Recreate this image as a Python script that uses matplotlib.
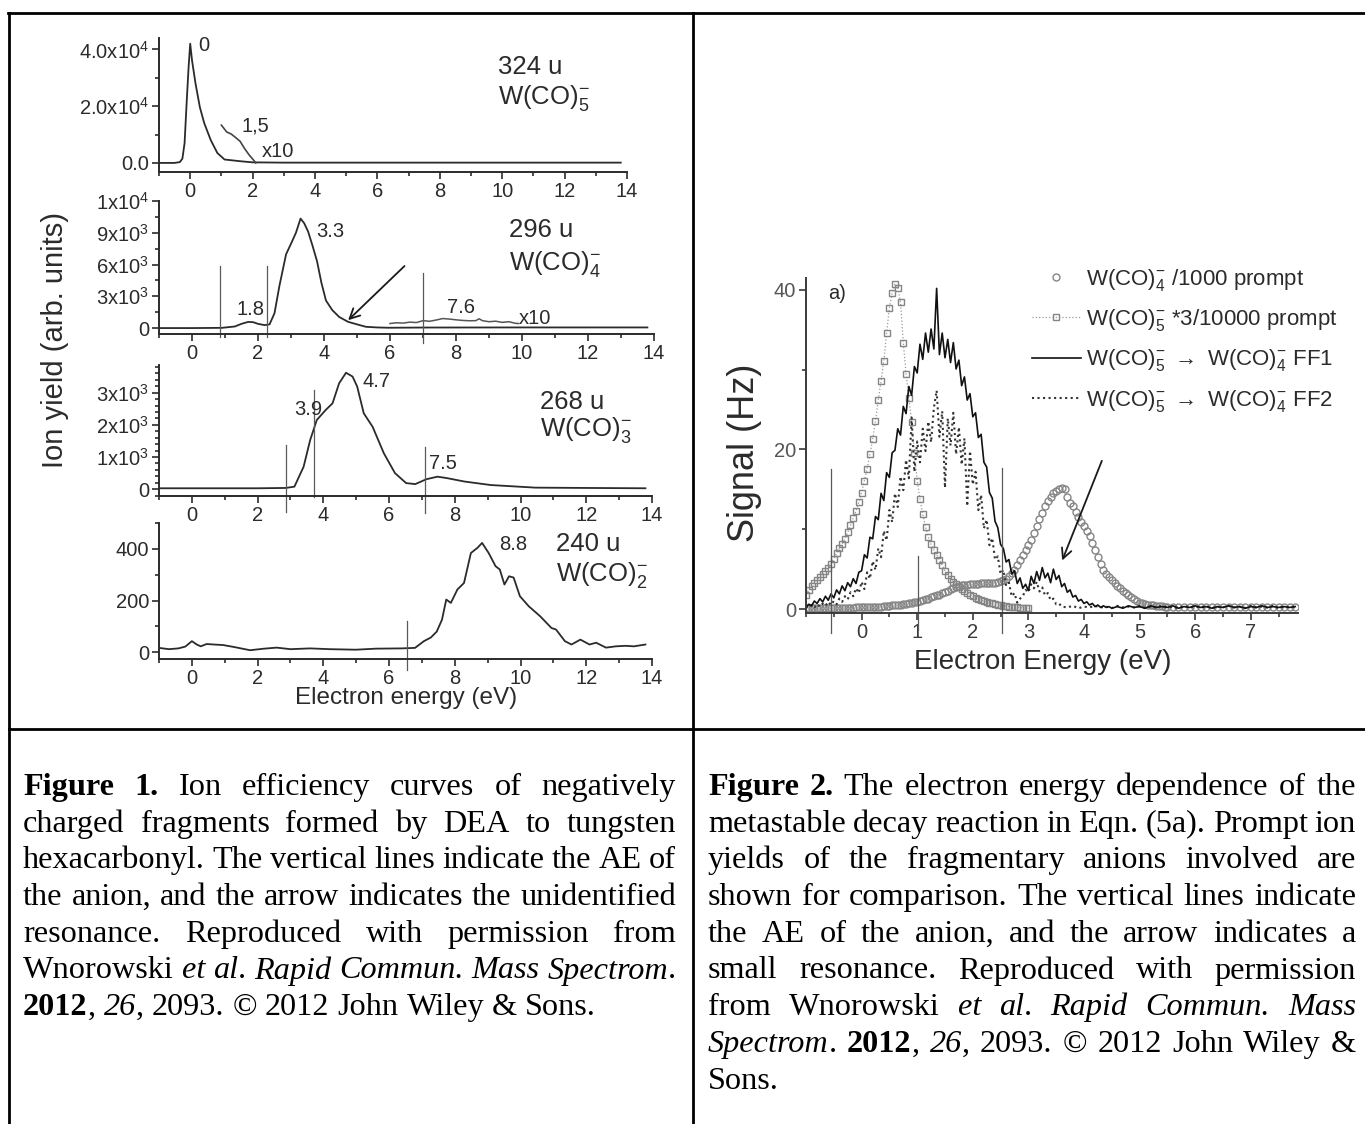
import numpy as np
import matplotlib
matplotlib.use('Agg')
import matplotlib.pyplot as plt
from matplotlib.lines import Line2D
from matplotlib.ticker import MultipleLocator, FixedLocator

plt.rcParams['font.family'] = ['Liberation Sans', 'DejaVu Sans']
plt.rcParams['mathtext.fontset'] = 'custom'
plt.rcParams['mathtext.rm'] = 'Liberation Sans'
plt.rcParams['mathtext.it'] = 'Liberation Sans:italic'
plt.rcParams['mathtext.bf'] = 'Liberation Sans:bold'

# ---------------- Figure 1 data (ion yield vs electron energy) ----------------
e324 = [-1.0, -0.5, -0.33, -0.25, -0.18, -0.11, -0.05, 0.0, 0.06, 0.17, 0.31, 0.45,
        0.66, 0.87, 1.1, 1.6, 2.0, 3.0, 6.0, 10.0, 13.8]
y324 = [0, 0, 300, 1500, 7000, 22000, 34000, 42000, 36000, 28000, 19600, 14000,
        8000, 3500, 1200, 600, 200, 100, 100, 100, 100]
e324_x10 = [1.0, 1.17, 1.31, 1.45, 1.6, 1.74, 1.89, 2.03, 2.1]
y324_x10 = [13300, 10900, 10200, 9000, 7600, 5100, 2800, 1000, 0]

e296 = [-1.0, 0.0, 0.9, 1.3, 1.5, 1.7, 1.85, 2.0, 2.2, 2.35, 2.5, 2.65, 2.85, 3.03,
        3.15, 3.29, 3.4, 3.52, 3.65, 3.79, 3.92, 4.06, 4.25, 4.46, 4.73, 5.0, 5.27,
        5.6, 5.95, 7.0, 10.0, 13.8]
y296 = [0, 0, 20, 150, 400, 580, 560, 400, 280, 350, 1400, 4000, 6960, 8170,
        9000, 10340, 9900, 9100, 7800, 6300, 4300, 2600, 1700, 1050, 590, 350, 120,
        60, 30, 50, 60, 60]
e296_x10 = [6.0, 6.2, 6.4, 6.6, 6.8, 7.0, 7.2, 7.4, 7.6, 7.8, 8.0, 8.2, 8.4, 8.6,
            8.7, 8.8, 9.0, 9.2, 9.4, 9.6, 9.8, 9.9]
y296_x10 = [430, 500, 470, 560, 520, 700, 640, 760, 900, 850, 780, 720, 690, 700,
            880, 700, 600, 650, 540, 600, 450, 430]

e268 = [-1.0, 1.0, 2.0, 2.85, 3.12, 3.4, 3.6, 3.8, 4.07, 4.28, 4.48, 4.69, 4.89,
        5.03, 5.23, 5.5, 5.84, 6.18, 6.52, 6.8, 7.13, 7.47, 7.74, 8.29, 9.1, 10.45,
        12.0, 13.8]
y268 = [30, 30, 30, 40, 80, 700, 1530, 2150, 2460, 2670, 3290, 3620, 3500,
        3190, 2360, 1940, 1120, 500, 190, 160, 310, 390, 350, 240, 130, 50,
        40, 30]

e240 = [-1.0, -0.7, -0.41, -0.2, 0.0, 0.15, 0.27, 0.45, 0.67, 0.95, 1.3, 1.77, 2.2,
        2.58, 3.0, 3.6, 4.2, 4.99, 5.6, 6.38, 6.79, 7.06, 7.27, 7.45, 7.61, 7.74,
        7.88, 8.08, 8.28, 8.49, 8.69, 8.83, 9.03, 9.24, 9.37, 9.51, 9.65, 9.79, 9.98,
        10.25, 10.6, 10.94, 11.08, 11.35, 11.55, 11.82, 12.1, 12.3, 12.6, 12.9, 13.2,
        13.45, 13.8]
y240 = [17, 12, 15, 22, 43, 30, 23, 32, 30, 28, 20, 8, 14,
        18, 12, 15, 12, 10, 14, 15, 17, 43, 57, 80, 126, 204,
        191, 243, 268, 384, 404, 423, 384, 333, 320, 262, 294, 289, 217,
        178, 139, 94, 88, 43, 30, 49, 30, 37, 18, 23, 25,
        23, 30]

# appearance energies (vertical lines): x, top, bottom
ae296 = [(0.85, 5850, -840), (2.26, 5850, -840), (7.0, 5230, -1400)]
ae268 = [(2.85, 1375, -695), (3.73, 3078, -230), (7.09, 1323, -740)]
ae240 = [(6.55, 120, -67)]

# ---------------- Figure 2 data (metastable decay) ----------------
# sampled every 0.05 eV starting at -1.0 eV, tails every 0.1 eV
ff1 = [0.2, 0.6, 0.4, 1.0, 0.7, 1.3, 0.9, 1.6, 1.1, 1.9, 1.4, 2.4, 1.9, 2.9, 2.3, 3.3, 2.8, 3.8, 3.2, 4.6,
       4.8, 6.8, 6.4, 9.0, 8.8, 11.6, 11.2, 14.5, 13.6, 17.1, 16.5, 19.6, 19.9, 22.6, 21.8, 25.4, 24.5, 27.9, 26.8, 30.4,
       29.6, 33.2, 31.3, 34.6, 32.2, 35.1, 32.6, 40.2, 31.9, 34.6, 31.5, 33.8, 30.9, 33.4, 30.1, 31.2, 28.0, 29.1, 26.2, 27.0,
       24.1, 24.6, 21.5, 21.9, 18.4, 17.8, 14.6, 13.9, 11.0, 10.2, 8.1, 7.6, 5.9, 6.2, 4.4, 4.8, 3.2, 3.9, 2.6, 3.1,
       2.3, 4.1, 3.2, 4.7, 3.6, 5.2, 3.9, 4.5, 3.3, 5.0, 3.7, 4.2, 2.8, 3.2, 2.1, 2.4, 1.5, 1.7, 1.0, 1.2,
       0.7, 0.9, 0.5, 0.7, 0.3, 0.5, 0.2, 0.4, 0.2, 0.3, 0.1]
ff1_tail = [0.3, 0.1, 0.4, 0.2, 0.3, 0.1, 0.4, 0.2, 0.3, 0.2, 0.4, 0.1, 0.3, 0.2, 0.4, 0.2, 0.3,
            0.1, 0.3, 0.2, 0.4, 0.2, 0.3, 0.1, 0.3, 0.2, 0.4, 0.2, 0.3, 0.2, 0.3, 0.2, 0.3]
ff2 = [0.3, 0.1, 0.5, 0.2, 0.6, 0.3, 0.7, 0.4, 0.9, 0.5, 1.0, 0.6, 1.3, 0.9, 1.6, 1.2, 2.1, 1.6, 2.6, 2.0,
       3.4, 2.5, 4.6, 3.8, 6.0, 4.9, 7.6, 6.5, 9.8, 8.6, 12.4, 10.9, 14.5, 12.8, 16.6, 14.9, 18.7, 16.4, 24.0, 17.2,
       21.0, 18.4, 22.6, 19.8, 23.5, 20.9, 25.2, 27.4, 21.6, 24.8, 15.2, 23.9, 20.5, 24.6, 19.4, 22.8, 18.1, 21.4, 12.9, 19.8,
       15.6, 17.2, 12.4, 14.3, 10.1, 11.2, 8.0, 8.9, 6.2, 6.6, 4.4, 4.9, 2.9, 3.3, 1.6, 2.0, 0.8, 1.3, 1.6, 2.4,
       2.1, 3.1, 2.6, 3.4, 2.2, 2.7, 1.7, 2.0, 1.1, 1.3, 0.6, 0.7, 0.3]
ff2_tail = [0.2, 0.4, 0.1, 0.3, 0.2, 0.4, 0.2, 0.3, 0.1, 0.4, 0.2, 0.3, 0.2, 0.4, 0.1, 0.3, 0.2,
            0.4, 0.2, 0.3, 0.1, 0.4, 0.2, 0.3, 0.2, 0.4, 0.1, 0.3, 0.2, 0.4, 0.2, 0.3, 0.1, 0.4,
            0.2, 0.3, 0.2, 0.4, 0.1, 0.3, 0.2, 0.3]
w5_prompt = [1.8, 2.4, 2.9, 3.3, 3.7, 4.0, 4.4, 4.8, 5.2, 5.7, 6.3, 7.0, 7.6, 8.2, 8.8, 9.6, 10.5, 11.4, 12.3, 13.4,
             14.6, 16.1, 17.6, 19.4, 21.3, 23.6, 26.2, 28.6, 31.1, 34.6, 37.8, 39.6, 40.8, 40.3, 38.5, 33.4, 29.5, 26.4, 23.5, 19.6,
             16.1, 13.8, 11.9, 10.3, 9.0, 8.1, 7.4, 6.8, 6.2, 5.5, 4.8, 4.3, 3.8, 3.4, 3.1, 2.8, 2.5, 2.2, 2.0, 1.8,
             1.6, 1.4, 1.3, 1.1, 1.0, 0.9, 0.8, 0.7, 0.6, 0.5, 0.45, 0.4, 0.35, 0.3, 0.25, 0.2, 0.2, 0.15, 0.15, 0.1,
             0.1]
w4_prompt = [0.1, 0.1, 0.1, 0.1, 0.1, 0.1, 0.1, 0.1, 0.1, 0.1, 0.1, 0.1, 0.1, 0.1, 0.15, 0.15, 0.15, 0.15, 0.2, 0.2,
             0.2, 0.2, 0.2, 0.25, 0.25, 0.3, 0.3, 0.3, 0.35, 0.35, 0.4, 0.45, 0.5, 0.5, 0.55, 0.6, 0.65, 0.7, 0.8, 0.85,
             0.9, 1.0, 1.1, 1.2, 1.3, 1.45, 1.6, 1.7, 1.8, 1.95, 2.1, 2.3, 2.5, 2.65, 2.8, 2.9, 3.0, 3.05, 3.05, 3.1,
             3.1, 3.15, 3.15, 3.2, 3.2, 3.25, 3.25, 3.3, 3.3, 3.35, 3.5, 3.6, 3.8, 4.1, 4.5, 4.9, 5.5, 6.1, 6.8, 7.4,
             8.0, 8.7, 9.5, 10.4, 11.3, 12.1, 12.9, 13.5, 14.0, 14.5, 14.8, 15.0, 15.2, 15.1, 14.0, 13.3, 12.9, 12.2, 11.5, 10.9,
             10.4, 9.8, 9.2, 8.3, 7.4, 6.5, 5.6, 4.9, 4.4, 4.0, 3.6, 3.3, 2.9, 2.6, 2.3, 2.0, 1.7, 1.45, 1.2, 1.0,
             0.8, 0.7, 0.6, 0.55, 0.5, 0.45, 0.4, 0.35, 0.35, 0.3, 0.3]
w4_prompt_tail = [0.3, 0.3, 0.25, 0.3, 0.25, 0.25, 0.3, 0.25, 0.3, 0.25, 0.25, 0.3, 0.25, 0.3, 0.25,
                  0.3, 0.3, 0.25, 0.3, 0.25, 0.3, 0.3, 0.25]
ae_fig2 = [(-0.55, 17.5, -3.0), (1.01, 6.6, -2.6), (2.52, 17.7, -3.0)]

legend_labels = [r'W(CO)$_4^{-}$ /1000 prompt',
                 r'W(CO)$_5^{-}$ *3/10000 prompt',
                 r'W(CO)$_5^{-}$ $\rightarrow$ W(CO)$_4^{-}$ FF1',
                 r'W(CO)$_5^{-}$ $\rightarrow$ W(CO)$_4^{-}$ FF2']

caption1 = ["**Figure 1.** Ion efficiency curves of negatively",
            "charged fragments formed by DEA to tungsten",
            "hexacarbonyl. The vertical lines indicate the AE of",
            "the anion, and the arrow indicates the unidentified",
            "resonance. Reproduced with permission from",
            "Wnorowski _et al_. _Rapid Commun. Mass Spectrom_.",
            "**2012**, _26_, 2093. \u00a9 2012 John Wiley & Sons."]
caption2 = ["**Figure 2.** The electron energy dependence of the",
            "metastable decay reaction in Eqn. (5a). Prompt ion",
            "yields of the fragmentary anions involved are",
            "shown for comparison. The vertical lines indicate",
            "the AE of the anion, and the arrow indicates a",
            "small resonance. Reproduced with permission",
            "from Wnorowski _et al_. _Rapid Commun. Mass_",
            "_Spectrom_. **2012**, _26_, 2093. \u00a9 2012 John Wiley &",
            "Sons."]

W, H = 1365, 1124
fig = plt.figure(figsize=(W / 100, H / 100), dpi=100)
fig.patch.set_facecolor('white')

INK = '#2b2b2b'


def px_axes(l, t, r, b):
    return fig.add_axes([l / W, 1 - b / H, (r - l) / W, (b - t) / H])


def style_axes(ax, xlim, ylim, tsize, color=INK):
    ax.set_xlim(*xlim)
    ax.set_ylim(*ylim)
    ax.patch.set_alpha(0)
    for s in ('top', 'right'):
        ax.spines[s].set_visible(False)
    for s in ('left', 'bottom'):
        ax.spines[s].set_color(color)
        ax.spines[s].set_linewidth(1.4)
    ax.tick_params(which='both', direction='out', color=color, width=1.2,
                   labelsize=tsize, labelcolor=color, pad=2)
    ax.tick_params(which='major', length=5)
    ax.tick_params(which='minor', length=3)


def left_panel(box, ylim, yticks, ylabels, yminor):
    ax = px_axes(*box)
    style_axes(ax, (-1, 14), ylim, 14.5)
    ax.xaxis.set_major_locator(MultipleLocator(2))
    ax.xaxis.set_minor_locator(MultipleLocator(1))
    ax.yaxis.set_major_locator(FixedLocator(yticks))
    ax.set_yticklabels(ylabels)
    ax.yaxis.set_minor_locator(MultipleLocator(yminor))
    return ax


def ae_lines(ax, lines):
    for x, top, bot in lines:
        ax.plot([x, x], [bot, top], color='#5a5a5a', lw=0.9, clip_on=False)


def name_label(ax, x, y1, y2, mass, ion):
    ax.text(x, y1, mass, fontsize=18.5, color=INK, ha='left', va='center')
    ax.text(x, y2, ion, fontsize=18.5, color=INK, ha='left', va='center')


def small(ax, x, y, s):
    ax.text(x, y, s, fontsize=14.5, color=INK, ha='center', va='center')


# ---- panel 1: 324 u ----
ax1 = left_panel((159, 38, 627, 172), (-3200, 44000), [0, 20000, 40000],
                 ['0.0', r'2.0x10$^4$', r'4.0x10$^4$'], 10000)
ax1.plot(e324, y324, color=INK, lw=1.3)
ax1.plot(e324_x10, y324_x10, color='#444444', lw=1.2)
small(ax1, 0.45, 41400, '0')
small(ax1, 2.1, 13000, '1,5')
small(ax1, 2.82, 3960, 'x10')
name_label(ax1, 9.87, 33700, 22800, '324 u', r'W(CO)$_5^{-}$')

# ---- panel 2: 296 u ----
ax2 = left_panel((159, 201, 654, 334), (-560, 12000), [0, 3000, 6000, 9000, 12000],
                 ['0', r'3x10$^3$', r'6x10$^3$', r'9x10$^3$', r'1x10$^4$'], 1500)
ax2.plot(e296, y296, color=INK, lw=1.3)
ax2.plot(e296_x10, y296_x10, color='#555555', lw=1.1)
ae_lines(ax2, ae296)
ax2.annotate('', xy=(4.67, 560), xytext=(6.5, 6040),
             arrowprops=dict(arrowstyle='->', color='#1a1a1a', lw=1.3, mutation_scale=18))
small(ax2, 1.78, 1760, '1.8')
small(ax2, 4.2, 9100, '3.3')
small(ax2, 8.15, 1950, '7.6')
small(ax2, 10.4, 930, 'x10')
name_label(ax2, 9.6, 9290, 6040, '296 u', r'W(CO)$_4^{-}$')

# ---- panel 3: 268 u ----
ax3 = left_panel((159, 365, 652, 496), (-210, 3860), [0, 1000, 2000, 3000],
                 ['0', r'1x10$^3$', r'2x10$^3$', r'3x10$^3$'], 200)
ax3.plot(e268, y268, color=INK, lw=1.3)
ae_lines(ax3, ae268)
small(ax3, 5.63, 3340, '4.7')
small(ax3, 3.53, 2490, '3.9')
small(ax3, 7.63, 810, '7.5')
name_label(ax3, 10.6, 2720, 1840, '268 u', r'W(CO)$_3^{-}$')

# ---- panel 4: 240 u ----
ax4 = left_panel((159, 523, 652, 659), (-26, 500), [0, 200, 400],
                 ['0', '200', '400'], 100)
ax4.plot(e240, y240, color=INK, lw=1.3)
ae_lines(ax4, ae240)
small(ax4, 9.78, 417, '8.8')
name_label(ax4, 11.07, 417, 300, '240 u', r'W(CO)$_2^{-}$')

fig.text(406 / W, 1 - 698 / H, 'Electron energy (eV)', fontsize=17.5, color=INK,
         ha='center', va='center')
fig.text(55 / W, 1 - 340 / H, 'Ion yield (arb. units)', fontsize=21, color=INK,
         ha='center', va='center', rotation=90)

# ---- Figure 2 ----
axr = px_axes(806, 278, 1298, 613)
style_axes(axr, (-1, 7.85), (-0.5, 41.5), 14.5, color='#3a3a3a')
axr.xaxis.set_major_locator(FixedLocator(range(0, 8)))
axr.xaxis.set_minor_locator(MultipleLocator(0.5))
axr.yaxis.set_major_locator(FixedLocator([0, 20, 40]))
axr.yaxis.set_minor_locator(MultipleLocator(10))
axr.tick_params(axis='y', labelcolor='#555555')

step = 0.05
e_w4 = np.concatenate([-1.0 + step * np.arange(len(w4_prompt)),
                       5.6 + 0.1 * np.arange(len(w4_prompt_tail))])
e_w5 = -1.0 + step * np.arange(len(w5_prompt))
e_ff1 = np.concatenate([-1.0 + step * np.arange(len(ff1)),
                        4.6 + 0.1 * np.arange(len(ff1_tail))])
e_ff2 = np.concatenate([-1.0 + step * np.arange(len(ff2)),
                        3.7 + 0.1 * np.arange(len(ff2_tail))])

h_w4, = axr.plot(e_w4, w4_prompt + w4_prompt_tail, ls='none', marker='o', ms=5,
                 mfc='none', mec='#858585', mew=1.0)
h_w5, = axr.plot(e_w5, w5_prompt, ls=':', color='#9a9a9a', lw=0.9, marker='s', ms=4.5,
                 mfc='none', mec='#858585', mew=1.0)
h_ff2, = axr.plot(e_ff2, ff2 + ff2_tail, ls=':', color='#333333', lw=1.5)
h_ff1, = axr.plot(e_ff1, ff1 + ff1_tail, ls='-', color='#111111', lw=1.2)
ae_lines(axr, ae_fig2)
axr.annotate('', xy=(3.59, 5.76), xytext=(4.34, 18.9),
             arrowprops=dict(arrowstyle='->', color='#1a1a1a', lw=1.3, mutation_scale=18))
axr.text(-0.6, 39.5, 'a)', fontsize=14.5, color=INK, ha='left', va='center')
axr.legend([h_w4, h_w5, h_ff1, h_ff2], legend_labels, loc='upper left',
           bbox_to_anchor=(1032 / W, 1 - 267 / H), bbox_transform=fig.transFigure,
           frameon=False, fontsize=16, handlelength=2.2, handletextpad=0.25,
           labelspacing=0.64, borderpad=0, borderaxespad=0, numpoints=1,
           labelcolor=INK)

fig.text(1043 / W, 1 - 662 / H, 'Electron Energy (eV)', fontsize=20, color=INK,
         ha='center', va='center')
fig.text(745 / W, 1 - 453 / H, 'Signal (Hz)', fontsize=26, color=INK,
         ha='center', va='center', rotation=90)

# ---- table rules ----
for (x0, y0, x1, y1) in [(8, 13, W, 13), (9, 13, 9, H), (693, 13, 693, H), (9, 729, W, 729)]:
    fig.add_artist(Line2D([x0 / W, x1 / W], [1 - y0 / H, 1 - y1 / H],
                          transform=fig.transFigure, color='black', lw=2.0))


# ---- justified captions ----
def parse_line(s):
    words, cur = [], []
    bold = ital = False
    i = 0
    while i < len(s):
        if s.startswith('**', i):
            bold = not bold
            i += 2
            continue
        ch = s[i]
        i += 1
        if ch == '_':
            ital = not ital
            continue
        if ch == ' ':
            if cur:
                words.append(cur)
                cur = []
            continue
        st = (bold, ital)
        if cur and cur[-1][1] == st:
            cur[-1][0] += ch
        else:
            cur.append([ch, st])
    if cur:
        words.append(cur)
    return words


def draw_caption(lines, x0, x1, y0, dy, size):
    renderer = fig.canvas.get_renderer()
    space = size * 100 / 72 * 0.25
    for k, s in enumerate(lines):
        words = parse_line(s)
        y = 1 - (y0 + k * dy) / H
        placed, widths = [], []
        for w in words:
            segs, ww = [], 0
            for txt, (b, it) in w:
                t = fig.text(0, y, txt, fontsize=size, family='Liberation Serif',
                             weight='bold' if b else 'normal',
                             style='italic' if it else 'normal',
                             color='black', ha='left', va='baseline')
                sw = t.get_window_extent(renderer).width
                segs.append((t, sw))
                ww += sw
            placed.append(segs)
            widths.append(ww)
        if k == len(lines) - 1 or len(words) < 2:
            gap = space
        else:
            gap = (x1 - x0 - sum(widths)) / (len(words) - 1)
        x = x0
        for segs, ww in zip(placed, widths):
            xx = x
            for t, sw in segs:
                t.set_x(xx / W)
                xx += sw
            x += ww + gap


draw_caption(caption1, 23, 676, 795, 36.7, 23.2)
draw_caption(caption2, 708, 1356, 795, 36.7, 23.2)

fig.savefig('out.png', dpi=100)
